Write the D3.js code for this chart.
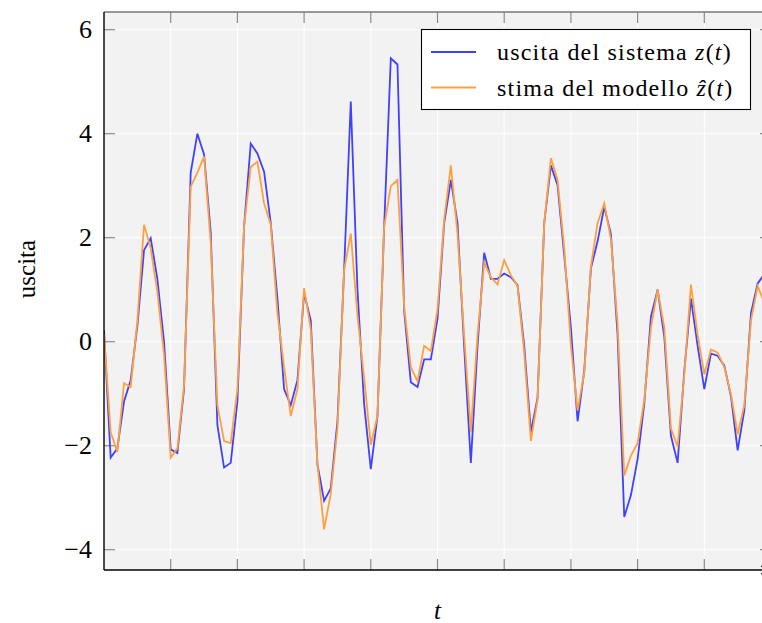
<!DOCTYPE html>
<html lang="it">
<head>
<meta charset="UTF-8">
<title>uscita del sistema</title>
<style>
  body { margin: 0; background: #fff; }
  svg text { font-family: "Liberation Serif", "DejaVu Serif", serif; fill: #000; }
</style>
</head>
<body>
<svg id="graph"></svg>
<script src="https://d3js.org/d3.v7.min.js"></script>
<script>
// uscita del sistema z(t)
const zSys = [
  0.22, -2.23, -2.05, -1.15, -0.74, 0.30, 1.76, 1.99, 1.21, 0.00,
  -2.07, -2.14, -0.91, 3.25, 4.00, 3.60, 2.10, -1.60, -2.42, -2.33,
  -1.15, 2.21, 3.81, 3.62, 3.27, 2.28, 0.83, -0.91, -1.22, -0.74,
  0.93, 0.41, -2.36, -3.06, -2.82, -1.53, 1.38, 4.62, 1.00, -1.20,
  -2.45, -1.43, 2.21, 5.45, 5.33, 0.60, -0.78, -0.87, -0.34, -0.34,
  0.44, 2.28, 3.11, 2.28, -0.10, -2.33, -0.08, 1.71, 1.21, 1.21,
  1.31, 1.24, 1.09, -0.08, -1.74, -1.08, 2.28, 3.39, 3.01, 1.66,
  0.27, -1.53, -0.56, 1.41, 1.93, 2.59, 2.07, 0.13, -3.37, -2.95,
  -2.26, -1.19, 0.48, 1.00, 0.10, -1.81, -2.33, -0.56, 0.83, -0.08,
  -0.91, -0.23, -0.27, -0.46, -1.05, -2.09, -1.32, 0.55, 1.12, 1.30
];
// stima del modello ẑ(t)
const zHat = [
  0.15, -1.74, -2.12, -0.80, -0.87, 0.40, 2.25, 1.80, 0.96, -0.25,
  -2.23, -2.05, -0.84, 2.98, 3.25, 3.56, 1.90, -1.22, -1.91, -1.95,
  -0.91, 2.21, 3.36, 3.46, 2.66, 2.25, 0.55, -0.49, -1.43, -0.91,
  1.03, 0.24, -2.36, -3.61, -2.92, -1.67, 1.38, 2.08, 0.50, -0.70,
  -1.98, -1.43, 2.21, 2.99, 3.11, 0.69, -0.49, -0.76, -0.08, -0.18,
  0.62, 2.35, 3.39, 2.07, 0.10, -1.74, 0.13, 1.52, 1.24, 1.10,
  1.57, 1.28, 1.07, -0.21, -1.91, -1.12, 2.28, 3.53, 3.11, 1.80,
  -0.08, -1.32, -0.60, 1.45, 2.28, 2.66, 1.97, 0.34, -2.57, -2.19,
  -1.95, -1.12, 0.27, 1.00, 0.27, -1.67, -2.02, -0.63, 1.10, 0.13,
  -0.63, -0.15, -0.21, -0.49, -1.01, -1.78, -1.22, 0.41, 1.07, 0.75
];
const yTicks = [-4, -2, 0, 2, 4, 6];
const xTicks = [0, 10, 20, 30, 40, 50, 60, 70, 80, 90, 100];
const xDomain = [0, 100];
const yDomain = [-4.39, 6.34];
const series = [
  { name: 'uscita del sistema ', hat: false, values: zSys, color: '#4040ff' },
  { name: 'stima del modello ', hat: true, values: zHat, color: '#ffa040' }
];

const width = 762, height = 623;
const margin = { top: 12, left: 104 };
const plotW = 667, plotH = 558;

const svg = d3.select('#graph').attr('width', width).attr('height', height);

const x = d3.scaleLinear().domain(xDomain).range([margin.left, margin.left + plotW]);
const y = d3.scaleLinear().domain(yDomain).range([margin.top + plotH, margin.top]);

svg.append('defs').append('clipPath').attr('id', 'clip')
  .append('rect')
  .attr('x', margin.left).attr('y', margin.top)
  .attr('width', plotW).attr('height', plotH);

// background
svg.append('rect')
  .attr('x', margin.left).attr('y', margin.top)
  .attr('width', plotW).attr('height', plotH)
  .attr('fill', '#f2f2f2');

// grid
const grid = svg.append('g');
grid.selectAll('.vg').data(xTicks.slice(1, -1)).enter().append('line')
  .attr('x1', d => x(d)).attr('x2', d => x(d))
  .attr('y1', margin.top).attr('y2', margin.top + plotH)
  .attr('stroke', '#fff').attr('stroke-width', 1);
grid.selectAll('.hg').data(yTicks).enter().append('line')
  .attr('x1', margin.left).attr('x2', margin.left + plotW)
  .attr('y1', d => y(d)).attr('y2', d => y(d))
  .attr('stroke', '#fff').attr('stroke-width', 1);

// tick marks (inward, grey)
const tickLen = 11;
const ticks = svg.append('g').attr('stroke', '#8a8a8a').attr('stroke-width', 1.2);
xTicks.slice(1, -1).forEach(d => {
  ticks.append('line').attr('x1', x(d)).attr('x2', x(d))
    .attr('y1', margin.top).attr('y2', margin.top + tickLen);
  ticks.append('line').attr('x1', x(d)).attr('x2', x(d))
    .attr('y1', margin.top + plotH).attr('y2', margin.top + plotH - tickLen);
});
yTicks.forEach(d => {
  ticks.append('line').attr('x1', margin.left).attr('x2', margin.left + tickLen)
    .attr('y1', y(d)).attr('y2', y(d));
  ticks.append('line').attr('x1', margin.left + plotW).attr('x2', margin.left + plotW - tickLen)
    .attr('y1', y(d)).attr('y2', y(d));
});

// lines
const line = d3.line().x((d, i) => x(i)).y(d => y(d));
svg.append('g').attr('clip-path', 'url(#clip)')
  .selectAll('path').data(series).enter().append('path')
  .attr('d', d => line(d.values))
  .attr('fill', 'none')
  .attr('stroke', d => d.color)
  .attr('stroke-width', 1.8)
  .attr('stroke-linejoin', 'miter');

// frame: top grey, left and bottom black
svg.append('line')
  .attr('x1', margin.left).attr('x2', margin.left + plotW)
  .attr('y1', margin.top).attr('y2', margin.top)
  .attr('stroke', '#777').attr('stroke-width', 1.5);
svg.append('line')
  .attr('x1', margin.left).attr('x2', margin.left)
  .attr('y1', margin.top).attr('y2', margin.top + plotH)
  .attr('stroke', '#000').attr('stroke-width', 1.4);
svg.append('line')
  .attr('x1', margin.left).attr('x2', margin.left + plotW - 2)
  .attr('y1', margin.top + plotH).attr('y2', margin.top + plotH)
  .attr('stroke', '#000').attr('stroke-width', 1.4);
svg.append('path')
  .attr('d', `M${margin.left + plotW - 10},${margin.top + plotH - 4} L${margin.left + plotW},${margin.top + plotH} L${margin.left + plotW - 10},${margin.top + plotH + 4}`)
  .attr('fill', 'none').attr('stroke', '#000').attr('stroke-width', 1.2);

// y tick labels
svg.append('g').selectAll('text').data(yTicks).enter().append('text')
  .attr('x', 92).attr('y', d => y(d))
  .attr('text-anchor', 'end')
  .attr('dominant-baseline', 'central')
  .style('font-size', '26px')
  .text(d => d < 0 ? '\u2212' + Math.abs(d) : d);

// axis labels
svg.append('text')
  .attr('transform', 'translate(26,269) rotate(-90)')
  .attr('text-anchor', 'middle')
  .attr('dominant-baseline', 'central')
  .style('font-size', '25px')
  .text('uscita');
svg.append('text')
  .attr('x', x(50)).attr('y', 610)
  .attr('text-anchor', 'middle')
  .attr('dominant-baseline', 'central')
  .style('font-size', '25px').style('font-style', 'italic')
  .text('t');

// legend
const lg = svg.append('g');
lg.append('rect')
  .attr('x', 421.5).attr('y', 29.5)
  .attr('width', 329).attr('height', 80)
  .attr('fill', '#fff').attr('stroke', '#000').attr('stroke-width', 1.1);
series.forEach((s, k) => {
  const cy = 52 + k * 35.5;
  lg.append('line')
    .attr('x1', 431).attr('x2', 476).attr('y1', cy).attr('y2', cy)
    .attr('stroke', s.color).attr('stroke-width', 1.8);
  const t = lg.append('text')
    .attr('x', 497).attr('y', cy)
    .attr('dominant-baseline', 'central')
    .style('font-size', '24px')
    .style('letter-spacing', '1.2px');
  t.append('tspan').text(s.name);
  t.append('tspan').style('font-style', 'italic').text(s.hat ? 'z\u0302' : 'z');
  t.append('tspan').text('(');
  t.append('tspan').style('font-style', 'italic').text('t');
  t.append('tspan').text(')');
});
</script>
</body>
</html>
